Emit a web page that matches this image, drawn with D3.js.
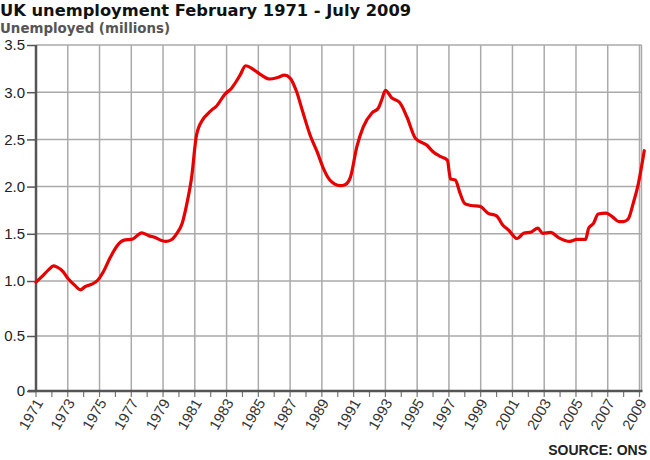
<!DOCTYPE html>
<html>
<head>
<meta charset="utf-8">
<script src="https://cdn.jsdelivr.net/npm/d3@7"></script>
<style>
  body { margin: 0; background: #fff; }
  svg { display: block; }
  .title { font-family: "DejaVu Sans", Verdana, sans-serif; font-weight: bold; font-size: 16.3px; fill: #111; }
  .subtitle { font-family: "DejaVu Sans", Verdana, sans-serif; font-weight: bold; font-size: 13.4px; fill: #555; }
  .ylab { font-family: "Liberation Sans", Arial, sans-serif; font-size: 15px; fill: #222; }
  .xlab { font-family: "Liberation Sans", Arial, sans-serif; font-size: 14.8px; fill: #333; }
  .source { font-family: "Liberation Sans", Arial, sans-serif; font-weight: bold; font-size: 14px; fill: #222; }
</style>
</head>
<body>
<div id="chart"></div>
<script>
const WIDTH = 650;
const HEIGHT = 460;

// unemployment (decimal year, millions)
const years = [1971.0, 1971.45, 1971.8, 1972.1, 1972.3, 1972.7, 1973.0, 1973.45, 1973.8, 1974.1,
  1974.5, 1974.9, 1975.25, 1975.65, 1976.1, 1976.5, 1977.1, 1977.65, 1978.1, 1978.5,
  1978.9, 1979.2, 1979.55, 1979.85, 1980.2, 1980.5, 1980.8, 1981.1, 1981.5, 1981.75,
  1982.05, 1982.35, 1982.9, 1983.3, 1983.85, 1984.2, 1984.7, 1985.2, 1985.7, 1986.2,
  1986.65, 1987.0, 1987.4, 1987.8, 1988.25, 1988.7, 1989.1, 1989.5, 1990.15, 1990.46,
  1990.8, 1991.2, 1991.6, 1992.15, 1992.55, 1992.77, 1993.0, 1993.4, 1993.9, 1994.35,
  1994.9, 1995.6, 1996.0, 1996.45, 1996.9, 1997.1, 1997.4, 1997.7, 1998.0, 1998.4,
  1998.96, 1999.45, 2000.0, 2000.4, 2000.75, 2001.3, 2001.7, 2002.2, 2002.6, 2002.9,
  2003.4, 2003.9, 2004.3, 2004.6, 2005.05, 2005.6, 2005.8, 2006.1, 2006.4, 2006.9,
  2007.3, 2007.7, 2008.0, 2008.3, 2008.6, 2008.9, 2009.3];
const unemployed = [0.99, 1.06, 1.12, 1.16, 1.15, 1.10, 1.03, 0.96, 0.92, 0.95,
  0.97, 1.01, 1.10, 1.24, 1.37, 1.43, 1.445, 1.51, 1.48, 1.46,
  1.43, 1.42, 1.44, 1.50, 1.61, 1.82, 2.10, 2.54, 2.71, 2.76,
  2.81, 2.85, 2.98, 3.04, 3.18, 3.28, 3.24, 3.18, 3.14, 3.155,
  3.18, 3.15, 3.01, 2.79, 2.55, 2.37, 2.19, 2.07, 2.01, 2.02,
  2.10, 2.42, 2.63, 2.78, 2.83, 2.92, 3.02, 2.94, 2.89, 2.74,
  2.51, 2.44, 2.37, 2.32, 2.28, 2.08, 2.07, 1.93, 1.82, 1.80,
  1.79, 1.72, 1.69, 1.59, 1.54, 1.45, 1.505, 1.52, 1.56, 1.505,
  1.515, 1.46, 1.43, 1.42, 1.44, 1.44, 1.56, 1.61, 1.71, 1.72,
  1.68, 1.63, 1.63, 1.66, 1.82, 2.01, 2.38];

const yTicks = [0, 0.5, 1, 1.5, 2, 2.5, 3, 3.5];
const yTickLabels = ["0", "0.5", "1.0", "1.5", "2.0", "2.5", "3.0", "3.5"];
const labelYears = [1971, 1973, 1975, 1977, 1979, 1981, 1983, 1985, 1987, 1989,
  1991, 1993, 1995, 1997, 1999, 2001, 2003, 2005, 2007, 2009];
const allYears = [1971, 1972, 1973, 1974, 1975, 1976, 1977, 1978, 1979, 1980,
  1981, 1982, 1983, 1984, 1985, 1986, 1987, 1988, 1989, 1990,
  1991, 1992, 1993, 1994, 1995, 1996, 1997, 1998, 1999, 2000,
  2001, 2002, 2003, 2004, 2005, 2006, 2007, 2008, 2009];

const data = years.map((y, i) => ({ year: y, value: unemployed[i] }));

const plot = { left: 36, right: 641.5, top: 45, bottom: 391 };

var x = d3.scaleLinear().domain([1971, 2009]).range([plot.left, 639.5]);
// the original axis stretches the 0-1 band
var y = d3.scaleLinear().domain([0, 1, 3.5]).range([plot.bottom, 281, plot.top]);

var svg = d3.select("#chart").append("svg")
    .attr("width", WIDTH)
    .attr("height", HEIGHT);

svg.append("text").attr("class", "title")
    .attr("x", 0).attr("y", 16)
    .text("UK unemployment February 1971 - July 2009");
svg.append("text").attr("class", "subtitle")
    .attr("x", 0).attr("y", 33)
    .text("Unemployed (millions)");

// grid
svg.append("g").selectAll("line")
    .data(yTicks)
  .join("line")
    .attr("x1", plot.left).attr("x2", plot.right)
    .attr("y1", d => y(d)).attr("y2", d => y(d))
    .attr("stroke", "#aaa").attr("stroke-width", 1.5);

svg.append("g").selectAll("line")
    .data(labelYears)
  .join("line")
    .attr("x1", d => x(d)).attr("x2", d => x(d))
    .attr("y1", plot.top).attr("y2", plot.bottom)
    .attr("stroke", "#aaa").attr("stroke-width", 1.5);

svg.append("line")
    .attr("x1", plot.right).attr("x2", plot.right)
    .attr("y1", plot.top).attr("y2", plot.bottom)
    .attr("stroke", "#aaa").attr("stroke-width", 1.5);

// y axis
var yAxis = svg.append("g")
    .attr("transform", "translate(" + plot.left + ",0)")
    .call(d3.axisLeft(y).tickValues(yTicks).tickSize(9).tickPadding(2)
        .tickFormat((d, i) => yTickLabels[i]));
yAxis.select(".domain").remove();
yAxis.selectAll(".tick line").attr("stroke", "#555").attr("stroke-width", 1.5);
yAxis.selectAll(".tick text").attr("class", "ylab").attr("font-size", null).attr("font-family", null);

// x axis minor ticks
svg.append("g").selectAll("line")
    .data(allYears)
  .join("line")
    .attr("x1", d => x(d)).attr("x2", d => x(d))
    .attr("y1", plot.bottom).attr("y2", plot.bottom + 6)
    .attr("stroke", "#777").attr("stroke-width", 1.2);

svg.append("g").selectAll("text")
    .data(labelYears)
  .join("text")
    .attr("class", "xlab")
    .attr("text-anchor", "end")
    .attr("transform", d => "translate(" + (x(d) + 3) + "," + (plot.bottom + 9) + ") rotate(-60)")
    .attr("dy", "0.35em")
    .text(d => d);

// axis lines
svg.append("line")
    .attr("x1", plot.left).attr("x2", plot.left)
    .attr("y1", plot.top).attr("y2", plot.bottom + 1)
    .attr("stroke", "#555").attr("stroke-width", 2.5);
svg.append("line")
    .attr("x1", plot.left - 8).attr("x2", plot.right + 1)
    .attr("y1", plot.bottom).attr("y2", plot.bottom)
    .attr("stroke", "#555").attr("stroke-width", 2.5);

// series
var line = d3.line()
    .x(d => x(d.year))
    .y(d => y(d.value))
    .curve(d3.curveMonotoneX);

svg.append("path")
    .datum(data)
    .attr("fill", "none")
    .attr("stroke", "#e60000")
    .attr("stroke-width", 3.2)
    .attr("stroke-linejoin", "round")
    .attr("stroke-linecap", "round")
    .attr("d", line);

svg.append("text").attr("class", "source")
    .attr("x", 647).attr("y", 455)
    .attr("text-anchor", "end")
    .text("SOURCE: ONS");
</script>
</body>
</html>
